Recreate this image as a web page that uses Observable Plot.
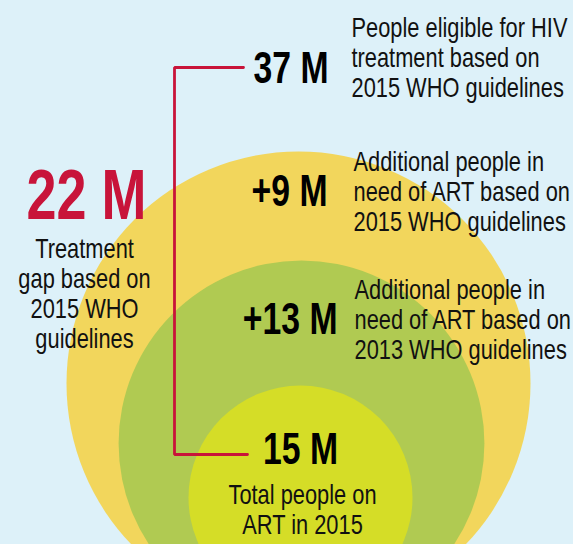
<!DOCTYPE html>
<html>
<head>
<meta charset="utf-8">
<script src="https://cdn.jsdelivr.net/npm/d3@7"></script>
<script src="https://cdn.jsdelivr.net/npm/@observablehq/plot@0.6"></script>
<style>
  html, body { margin: 0; padding: 0; background: #ddf1f9; }
  #chart svg { display: block; }
</style>
</head>
<body>
<div id="chart"></div>
<script>
// ---- Data (millions of people) ----
const circleNames = ["People eligible (2015 WHO)", "In need (2013 WHO)", "On ART in 2015"];
const circleTotals = [37, 28, 15];            // nested totals
const increments = [9, 13];                   // +9 M (2015 vs 2013), +13 M (2013 vs on ART)
const onArt = 15;
const treatmentGap = 22;
const circleColors = ["#f2d65c", "#b0ca52", "#d5dd27"];

const descriptions = [
  "People eligible for HIV\ntreatment based on\n2015 WHO guidelines",
  "Additional people in\nneed of ART based on\n2015 WHO guidelines",
  "Additional people in\nneed of ART based on\n2013 WHO guidelines"
];
const onArtText = "Total people on\nART in 2015";
const gapText = "Treatment\ngap based on\n2015 WHO\nguidelines";

// ---- Layout (pixel space of the 573x544 canvas) ----
const circleCenters = [[298, 383], [301, 443], [300, 497]];
const numberAnchors = [[328, 82], [327, 205], [337, 333]];   // right-aligned, baseline
const descAnchors = [[351, 96], [353, 230], [354, 358]];     // left-aligned, last baseline
const onArtNumberAnchor = [300, 463];
const onArtTextAnchor = [302, 533];
const gapNumberAnchor = [86, 218];
const gapTextAnchor = [84, 347];

const circles = circleNames.map((name, i) => ({
  name, total: circleTotals[i], cx: circleCenters[i][0], cy: circleCenters[i][1]
}));

const numberLabels = [`${circleTotals[0]} M`, `+${increments[0]} M`, `+${increments[1]} M`];
const numbers = numberLabels.map((t, i) => ({text: t, x: numberAnchors[i][0], y: numberAnchors[i][1]}));
const descs = descriptions.map((t, i) => ({text: t, x: descAnchors[i][0], y: descAnchors[i][1]}));

// bracket linking "37 M" and "15 M"
const bracketX = 174;
const topY = numberAnchors[0][1] - 15;
const botY = onArtNumberAnchor[1] - 9;
const bracket = [
  {x: numberAnchors[0][0] - 85, y: topY},
  {x: bracketX, y: topY},
  {x: bracketX, y: botY},
  {x: onArtNumberAnchor[0] - 53, y: botY}
];

const family = "'Liberation Sans', Arimo, Arial, sans-serif";
const bodySize = 27;
const lh = 30 / bodySize;
const numSize = 44;
const gapSize = 70;

// horizontal condensing factors so the text matches a condensed face
const ctx = document.createElement("canvas").getContext("2d");
function measure(txt, size, weight) {
  ctx.font = `${weight} ${size}px ${family}`;
  return ctx.measureText(txt).width;
}
const sxBody = 216 / measure("People eligible for HIV", bodySize, "normal");
const sxNum = 75 / measure("37 M", numSize, "bold");
const sxGap = 120 / measure("22 M", gapSize, "bold");

const red = "#c8143a";

const chart = Plot.plot({
  width: 573,
  height: 544,
  margin: 0,
  x: {domain: [0, 573], range: [0, 573], axis: null},
  y: {domain: [0, 544], range: [0, 544], axis: null},
  r: {type: "linear", domain: [15, 37], range: [112, 232]},
  color: {type: "ordinal", domain: circleNames, range: circleColors},
  style: {background: "#ddf1f9", fontFamily: family, color: "#111"},
  marks: [
    Plot.dot(circles, {x: "cx", y: "cy", r: "total", fill: "name", stroke: null, fillOpacity: 1}),
    Plot.line(bracket, {x: "x", y: "y", stroke: red, strokeWidth: 2.8, curve: "linear", strokeLinejoin: "miter"}),
    Plot.text(numbers, {x: "x", y: "y", text: "text", textAnchor: "end", lineAnchor: "bottom",
      fontSize: numSize, fontWeight: "bold", fill: "#000"}),
    Plot.text(descs, {x: "x", y: "y", text: "text", textAnchor: "start", lineAnchor: "bottom",
      fontSize: bodySize, lineHeight: lh, fill: "#111"}),
    Plot.text([`${onArt} M`], {x: onArtNumberAnchor[0], y: onArtNumberAnchor[1], text: d => d,
      textAnchor: "middle", lineAnchor: "bottom", fontSize: numSize, fontWeight: "bold", fill: "#000"}),
    Plot.text([onArtText], {x: onArtTextAnchor[0], y: onArtTextAnchor[1], text: d => d,
      textAnchor: "middle", lineAnchor: "bottom", fontSize: bodySize, lineHeight: lh, fill: "#111"}),
    Plot.text([`${treatmentGap} M`], {x: gapNumberAnchor[0], y: gapNumberAnchor[1], text: d => d,
      textAnchor: "middle", lineAnchor: "bottom", fontSize: gapSize, fontWeight: "bold", fill: red}),
    Plot.text([gapText], {x: gapTextAnchor[0], y: gapTextAnchor[1], text: d => d,
      textAnchor: "middle", lineAnchor: "bottom", fontSize: bodySize, lineHeight: lh, fill: "#111"})
  ]
});
document.getElementById("chart").appendChild(chart);

// apply condensing per text mark (in mark order)
const textGroups = chart.querySelectorAll('g[aria-label="text"]');
const factors = [sxNum, sxBody, sxNum, sxBody, sxGap, sxBody];
textGroups.forEach((g, i) => {
  const s = factors[i] ?? 1;
  g.querySelectorAll("text").forEach(t => {
    const tr = t.getAttribute("transform") || "";
    t.setAttribute("transform", `${tr} scale(${s},1)`);
  });
});
</script>
</body>
</html>
